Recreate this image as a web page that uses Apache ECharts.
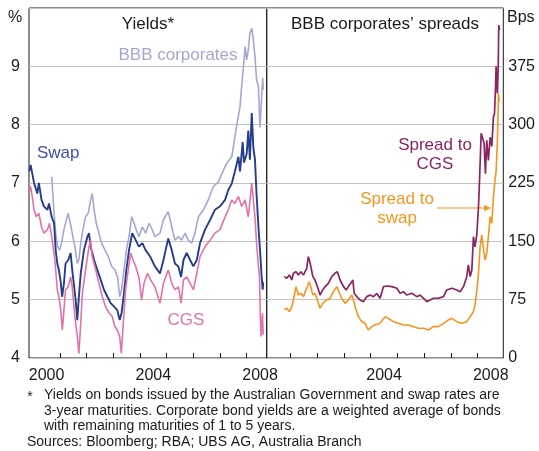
<!DOCTYPE html>
<html>
<head>
<meta charset="utf-8">
<script src="https://cdn.jsdelivr.net/npm/echarts@6/dist/echarts.min.js"></script>
<style>
  html, body { margin: 0; padding: 0; background: #fff; }
  #chart { width: 539px; height: 451px; }
</style>
</head>
<body>
<div id="chart"></div>
<script>
// left panel: yields, per cent ([decimal year, value])
const bbbYield = [
  [2000.69, 7.11], [2000.74, 6.77], [2000.79, 6.42], [2000.84, 6.14], [2000.91, 5.91], [2000.99, 5.85],
  [2001.06, 5.97], [2001.15, 6.2], [2001.24, 6.37], [2001.31, 6.48], [2001.39, 6.31], [2001.46, 6.14],
  [2001.56, 5.91], [2001.65, 5.62], [2001.71, 5.68], [2001.78, 5.97], [2001.86, 6.2], [2001.96, 6.42],
  [2002.06, 6.48], [2002.15, 6.71], [2002.21, 6.82], [2002.28, 6.54], [2002.36, 6.31], [2002.46, 6.14],
  [2002.56, 5.97], [2002.69, 5.85], [2002.81, 5.74], [2002.94, 5.57], [2003.06, 5.51], [2003.16, 5.39],
  [2003.24, 5.05], [2003.31, 5.17], [2003.4, 5.51], [2003.49, 5.85], [2003.59, 6.08], [2003.69, 6.42],
  [2003.78, 6.31], [2003.86, 6.2], [2003.96, 6.08], [2004.09, 6.25], [2004.21, 6.14], [2004.34, 6.31],
  [2004.46, 6.2], [2004.56, 6.08], [2004.75, 6.14], [2004.88, 6.37], [2005.06, 6.51], [2005.19, 6.25],
  [2005.31, 6.02], [2005.44, 6.08], [2005.56, 6.02], [2005.69, 6.14], [2005.81, 6.02], [2005.94, 5.97],
  [2006.06, 6.14], [2006.19, 6.42], [2006.38, 6.54], [2006.56, 6.71], [2006.75, 6.94], [2006.94, 7.02],
  [2007.13, 7.22], [2007.25, 7.34], [2007.44, 7.45], [2007.5, 7.62], [2007.62, 7.97], [2007.75, 8.31],
  [2007.81, 8.65], [2007.88, 8.99], [2007.94, 9.34], [2008.0, 9.11], [2008.06, 9.28], [2008.12, 9.57],
  [2008.19, 9.65], [2008.25, 9.45], [2008.31, 9.17], [2008.37, 8.77], [2008.44, 8.65], [2008.5, 7.95],
  [2008.56, 8.48], [2008.6, 8.8], [2008.62, 8.6]
];
const swapYield = [
  [1999.85, 7.2], [1999.9, 7.31], [1999.96, 7.17], [2000.03, 7.0], [2000.09, 7.02], [2000.15, 6.82],
  [2000.21, 7.0], [2000.31, 6.71], [2000.4, 6.6], [2000.53, 6.54], [2000.59, 6.65], [2000.69, 6.42],
  [2000.78, 6.31], [2000.84, 5.85], [2000.9, 5.62], [2000.96, 5.51], [2001.03, 5.3], [2001.08, 5.05],
  [2001.15, 5.28], [2001.21, 5.62], [2001.31, 5.68], [2001.4, 5.8], [2001.46, 5.51], [2001.59, 4.99],
  [2001.65, 4.65], [2001.71, 5.05], [2001.78, 5.45], [2001.9, 5.85], [2002.03, 6.08], [2002.09, 6.14],
  [2002.15, 5.91], [2002.28, 5.68], [2002.4, 5.51], [2002.53, 5.34], [2002.65, 5.17], [2002.78, 5.05],
  [2002.9, 4.94], [2003.03, 4.88], [2003.15, 4.82], [2003.24, 4.65], [2003.31, 4.77], [2003.4, 5.11],
  [2003.49, 5.51], [2003.59, 5.85], [2003.71, 6.14], [2003.84, 6.02], [2003.96, 5.91], [2004.09, 5.97],
  [2004.21, 5.85], [2004.38, 5.74], [2004.56, 5.57], [2004.75, 5.45], [2004.88, 5.68], [2005.06, 6.05],
  [2005.19, 5.85], [2005.31, 5.62], [2005.44, 5.57], [2005.54, 5.39], [2005.63, 5.68], [2005.75, 5.8],
  [2005.88, 5.68], [2006.0, 5.57], [2006.13, 5.68], [2006.25, 5.97], [2006.44, 6.2], [2006.63, 6.37],
  [2006.81, 6.54], [2007.0, 6.6], [2007.19, 6.71], [2007.31, 6.88], [2007.44, 6.99], [2007.56, 7.2],
  [2007.69, 7.45], [2007.75, 7.2], [2007.85, 7.7], [2007.9, 7.35], [2008.0, 7.5], [2008.06, 7.9],
  [2008.12, 7.4], [2008.19, 8.2], [2008.25, 7.6], [2008.31, 7.4], [2008.37, 6.8], [2008.44, 6.25],
  [2008.5, 5.85], [2008.56, 5.39], [2008.6, 5.17], [2008.62, 5.3]
];
const cgsYield = [
  [1999.85, 6.85], [1999.9, 6.94], [1999.96, 6.77], [2000.03, 6.54], [2000.11, 6.42], [2000.21, 6.48],
  [2000.31, 6.25], [2000.4, 6.14], [2000.53, 6.2], [2000.61, 6.31], [2000.71, 6.02], [2000.81, 5.68],
  [2000.9, 5.17], [2000.96, 5.05], [2001.03, 4.82], [2001.09, 4.48], [2001.13, 4.71], [2001.21, 5.17],
  [2001.31, 5.22], [2001.4, 5.39], [2001.46, 5.22], [2001.56, 4.71], [2001.65, 4.37], [2001.71, 4.08],
  [2001.78, 4.6], [2001.84, 5.11], [2001.96, 5.51], [2002.09, 5.91], [2002.15, 6.02], [2002.21, 5.74],
  [2002.34, 5.51], [2002.46, 5.28], [2002.59, 5.05], [2002.71, 4.88], [2002.84, 4.77], [2002.96, 4.71],
  [2003.06, 4.54], [2003.15, 4.48], [2003.24, 4.37], [2003.3, 4.08], [2003.36, 4.5], [2003.46, 5.17],
  [2003.56, 5.51], [2003.65, 5.8], [2003.74, 5.68], [2003.84, 5.57], [2003.96, 5.39], [2004.06, 4.99],
  [2004.15, 5.28], [2004.28, 5.45], [2004.4, 5.34], [2004.56, 5.22], [2004.75, 4.94], [2004.88, 5.28],
  [2005.06, 5.51], [2005.19, 5.28], [2005.31, 5.17], [2005.44, 5.22], [2005.54, 4.94], [2005.63, 5.34],
  [2005.75, 5.39], [2005.88, 5.28], [2006.0, 5.17], [2006.13, 5.45], [2006.25, 5.74], [2006.44, 5.91],
  [2006.63, 6.02], [2006.81, 6.14], [2007.0, 6.2], [2007.19, 6.42], [2007.31, 6.54], [2007.44, 6.71],
  [2007.56, 6.65], [2007.69, 6.77], [2007.81, 6.6], [2007.94, 6.71], [2008.06, 6.42], [2008.19, 7.0],
  [2008.31, 6.42], [2008.37, 5.97], [2008.44, 5.57], [2008.48, 5.4], [2008.51, 4.71], [2008.54, 4.37],
  [2008.59, 4.77], [2008.62, 4.4]
];

// right panel: BBB spreads, basis points
const spreadToCgs = [
  [2000.76, 104.6], [2000.85, 102.5], [2000.95, 106.8], [2001.04, 100.3], [2001.1, 108.9], [2001.2, 111],
  [2001.29, 106.8], [2001.38, 111], [2001.48, 106.8], [2001.54, 111], [2001.6, 115.3], [2001.66, 130.3],
  [2001.73, 121.8], [2001.83, 104.6], [2001.91, 100.3], [2002.0, 91.8], [2002.1, 81], [2002.2, 87.5],
  [2002.29, 91.8], [2002.41, 96], [2002.54, 104.6], [2002.66, 108.9], [2002.75, 111], [2002.85, 100.3],
  [2002.98, 91.8], [2003.08, 87.5], [2003.16, 91.8], [2003.25, 96], [2003.33, 100.3], [2003.38, 83.2],
  [2003.48, 78.9], [2003.6, 74.6], [2003.73, 72.5], [2003.85, 78.9], [2003.98, 81], [2004.1, 78.9],
  [2004.23, 83], [2004.35, 76.8], [2004.48, 91.8], [2004.6, 92.6], [2004.79, 91.8], [2004.98, 89.6],
  [2005.1, 83.2], [2005.23, 85.3], [2005.35, 81], [2005.54, 83.2], [2005.73, 78.9], [2005.85, 81],
  [2005.98, 76.8], [2006.1, 72.5], [2006.23, 74.6], [2006.35, 76.8], [2006.54, 76.8], [2006.73, 78.9],
  [2006.85, 87.5], [2007.04, 89.6], [2007.23, 87.5], [2007.35, 85.3], [2007.48, 91.8], [2007.6, 104.6],
  [2007.66, 119.6], [2007.73, 104.6], [2007.79, 113], [2007.85, 156], [2007.91, 143], [2007.98, 160],
  [2008.04, 194.6], [2008.08, 229], [2008.14, 289], [2008.2, 289], [2008.25, 276], [2008.3, 237],
  [2008.35, 280], [2008.41, 254], [2008.48, 284], [2008.54, 272], [2008.6, 310], [2008.64, 314],
  [2008.68, 349], [2008.7, 375], [2008.75, 340], [2008.78, 375], [2008.8, 428], [2008.83, 422]
];
const spreadToSwap = [
  [2000.76, 61.8], [2000.85, 64], [2000.95, 59.6], [2001.04, 66], [2001.1, 74.6], [2001.2, 91.8],
  [2001.29, 81], [2001.38, 83.2], [2001.48, 78.9], [2001.54, 85.3], [2001.63, 91.8], [2001.69, 98.2],
  [2001.75, 91.8], [2001.83, 81], [2001.91, 83.2], [2002.0, 74.6], [2002.1, 64], [2002.2, 70.3],
  [2002.35, 74.6], [2002.48, 76.8], [2002.6, 85.3], [2002.73, 91.8], [2002.83, 83.2], [2002.91, 76.8],
  [2003.04, 70.3], [2003.16, 74.6], [2003.29, 81], [2003.35, 74.6], [2003.45, 61.8], [2003.54, 53.2],
  [2003.66, 46.7], [2003.79, 44.6], [2003.91, 36], [2004.04, 40.3], [2004.16, 42.5], [2004.35, 44.6],
  [2004.54, 53.2], [2004.66, 51], [2004.85, 46.7], [2005.04, 44.6], [2005.23, 42.5], [2005.41, 42.5],
  [2005.6, 40.3], [2005.79, 38.2], [2005.98, 38.2], [2006.16, 36], [2006.35, 40.3], [2006.54, 40.3],
  [2006.73, 44.6], [2006.91, 48.9], [2007.04, 51], [2007.23, 46.7], [2007.41, 44.6], [2007.6, 46.7],
  [2007.73, 53.2], [2007.85, 59.6], [2007.91, 68], [2007.98, 87.5], [2008.04, 108.9], [2008.1, 143.2],
  [2008.16, 158.2], [2008.23, 138.9], [2008.29, 126], [2008.35, 134.6], [2008.41, 156], [2008.48, 181.8],
  [2008.54, 173.2], [2008.6, 207.5], [2008.66, 229], [2008.7, 240], [2008.75, 280], [2008.79, 340],
  [2008.82, 330]
];

// axis ticks (year starts) and year labels (mid-year)
const leftTickYears = [2001, 2002, 2003, 2004, 2005, 2006, 2007, 2008];
const leftLabelYears = [2000.5, 2004.5, 2008.5];
const rightTickYears = [2001, 2002, 2003, 2004, 2005, 2006, 2007, 2008];
const rightLabelYears = [2004.5, 2008.5];

const FONT = "'Liberation Sans', Arial, sans-serif";
const INK = "#1a1a1a";

function xAxisFor(grid, min, max, ticks, labels) {
  return {
    gridIndex: grid,
    type: "value",
    min: min,
    max: max,
    axisLine: { show: false },
    splitLine: { show: false },
    axisTick: {
      inside: true,
      length: 5,
      customValues: ticks,
      lineStyle: { color: INK, width: 1 }
    },
    axisLabel: {
      customValues: labels,
      formatter: v => String(Math.floor(v)),
      fontFamily: FONT,
      fontSize: 16,
      color: INK,
      margin: 10
    }
  };
}

function line(name, data, color, x, y, width) {
  return {
    name: name,
    type: "line",
    xAxisIndex: x,
    yAxisIndex: y,
    data: data,
    showSymbol: false,
    symbol: "none",
    silent: true,
    lineStyle: { color: color, width: width || 1.6 }
  };
}

function txt(text, x, y, color, size, align) {
  return {
    type: "text",
    x: x,
    y: y,
    silent: true,
    style: {
      text: text,
      fill: color,
      font: (size || 17) + "px " + FONT,
      textAlign: align || "center",
      textVerticalAlign: "middle"
    }
  };
}

const chart = echarts.init(document.getElementById("chart"));
chart.setOption({
  animation: false,
  grid: [
    { left: 29, top: 8, width: 237.7, height: 350, show: true, borderColor: INK, borderWidth: 1 },
    { left: 266.7, top: 8, width: 236.6, height: 350, show: true, borderColor: INK, borderWidth: 1 }
  ],
  xAxis: [
    xAxisFor(0, 1999.84, 2008.75, leftTickYears, leftLabelYears),
    xAxisFor(1, 2000.1, 2008.97, rightTickYears, rightLabelYears)
  ],
  yAxis: [
    {
      gridIndex: 0,
      type: "value",
      min: 4,
      max: 10,
      interval: 1,
      axisLine: { show: false },
      axisTick: { show: false },
      splitLine: { lineStyle: { color: "#c2c2c2", width: 1 } },
      axisLabel: {
        formatter: v => (v === 10 ? "" : String(v)),
        fontFamily: FONT,
        fontSize: 16,
        color: INK,
        margin: 9
      }
    },
    {
      gridIndex: 1,
      type: "value",
      position: "right",
      min: 0,
      max: 450,
      interval: 75,
      axisLine: { show: false },
      axisTick: { show: false },
      splitLine: { lineStyle: { color: "#c2c2c2", width: 1 } },
      axisLabel: {
        formatter: v => (v === 450 ? "" : String(v)),
        fontFamily: FONT,
        fontSize: 16,
        color: INK,
        margin: 5
      }
    }
  ],
  series: [
    line("BBB corporates", bbbYield, "#a4a7d2", 0, 0),
    line("Swap", swapYield, "#263c8c", 0, 0, 1.9),
    line("CGS", cgsYield, "#e272a8", 0, 0),
    line("Spread to CGS", spreadToCgs, "#8c2462", 1, 1, 1.7),
    line("Spread to swap", spreadToSwap, "#f7941d", 1, 1, 1.6)
  ],
  graphic: [
    txt("%", 15, 18, INK, 16),
    txt("Bps", 507, 18, INK, 16, "left"),
    txt("Yields*", 148, 24, INK),
    txt("BBB corporates\u2019 spreads", 385, 24, INK),
    txt("BBB corporates", 178, 55, "#a4a7d2"),
    txt("Swap", 37, 153, "#3f51a0", 17, "left"),
    txt("CGS", 186, 320, "#e272a8"),
    txt("Spread to", 435, 145, "#8c2462"),
    txt("CGS", 435, 164, "#8c2462"),
    txt("Spread to", 397, 199, "#f7941d"),
    txt("swap", 397, 218, "#f7941d"),
    {
      type: "line",
      silent: true,
      shape: { x1: 437, y1: 208, x2: 486, y2: 208 },
      style: { stroke: "#f7941d", lineWidth: 1.2 }
    },
    {
      type: "polygon",
      silent: true,
      shape: { points: [[491, 208], [484, 205], [484, 211]] },
      style: { fill: "#f7941d" }
    },
    // footnote
    txt("*", 30, 397, INK, 14),
    txt("Yields on bonds issued by the Australian Government and swap rates are", 44, 395, INK, 14, "left"),
    txt("3-year maturities. Corporate bond yields are a weighted average of bonds", 44, 411, INK, 14, "left"),
    txt("with remaining maturities of 1 to 5 years.", 44, 426, INK, 14, "left"),
    txt("Sources: Bloomberg; RBA; UBS AG, Australia Branch", 27, 442, INK, 14, "left")
  ]
});
</script>
</body>
</html>
